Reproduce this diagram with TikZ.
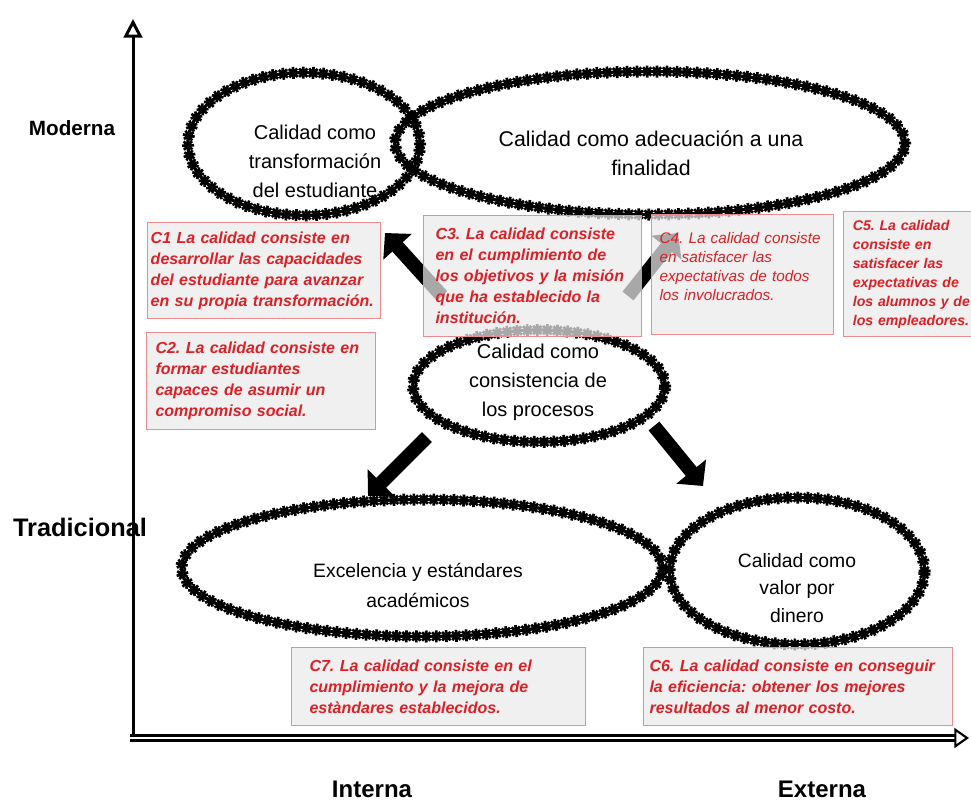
\documentclass[tikz,border=0pt]{standalone}
\usepackage{fontspec}
\setmainfont{Liberation Sans}
\usetikzlibrary{arrows.meta, positioning, shapes.geometric, decorations.markings}
\definecolor{redtxt}{RGB}{220,32,38}
\definecolor{redline}{RGB}{236,140,140}
\definecolor{boxgray}{RGB}{234,234,234}

\begin{document}
\begin{tikzpicture}[
    x=0.75pt, y=-0.75pt,
    ring/.style={ellipse, draw=black, line width=2.2pt, inner sep=0pt,
        postaction={decorate, decoration={markings,
        mark=between positions 0 and 1 step 7.5pt with {
        \draw[line width=2pt] (-6,0) -- (6,0) (0,-6) -- (0,6)
            (-4.2,-4.2) -- (4.2,4.2) (-4.2,4.2) -- (4.2,-4.2);}}}},
    ringtxt/.style={align=center, text=black, font=\fontsize{15}{21.75}\selectfont},
    box/.style={draw=redline, line width=0.8pt, fill=boxgray, fill opacity=0.72,
        text opacity=1, text=redtxt, anchor=north west, align=left, inner ysep=2pt,
        font=\frenchspacing\hyphenpenalty10000\relax\bfseries\itshape\fontsize{12}{15.75}\selectfont},
    blk/.style={line width=10.5pt, -{Triangle[length=14pt, width=28pt]}},
    axlab/.style={font=\bfseries\fontsize{18}{20}\selectfont}
]
\useasboundingbox (0,0) rectangle (971,804);

% --- the five conceptions of quality ---
\node[ring, minimum width=174pt, minimum height=107pt] (transf) at (304,144) {};
\node[ring, minimum width=382.5pt, minimum height=107.25pt] (adec) at (650,143) {};
\node[ring, minimum width=189pt, minimum height=84pt] (consist) at (539,386) {};
\node[ring, minimum width=360.75pt, minimum height=102.75pt] (excel) at (422,568) {};
\node[ring, minimum width=191.25pt, minimum height=110.25pt] (valor) at (797,571) {};

\node[ringtxt] (transf-t) at (315,161) {Calidad como\\transformación\\del estudiante};
\node[ringtxt, font=\fontsize{16}{21.75}\selectfont] (adec-t) at (651,153)
    {Calidad como adecuación a una\\finalidad};
\node[ringtxt] (consist-t) at (538,382) {Calidad como\\consistencia de\\los procesos};
\node[ringtxt, font=\fontsize{14.5}{22.5}\selectfont] (excel-t) at (418,585)
    {Excelencia y estándares\\académicos};
\node[ringtxt, font=\fontsize{14.5}{20.5}\selectfont] (valor-t) at (797,588)
    {Calidad como\\valor por\\dinero};

% --- block arrows out of the consistency ellipse ---
\coordinate (a1s) at (442,296);
\coordinate (a1e) at (385,233);
\coordinate (a2s) at (628,296);
\coordinate (a2e) at (678,233);
\coordinate (a3s) at (427,437);
\coordinate (a3e) at (368,496);
\coordinate (a4s) at (654,426);
\coordinate (a4e) at (703,486);

\draw[blk] (a1s) -- (a1e);
\draw[blk] (a2s) -- (a2e);
\draw[blk] (a3s) -- (a3e);
\draw[blk] (a4s) -- (a4e);

% --- criteria boxes ---
\node[box, inner xsep=2.4pt, text width=170pt, minimum height=72pt] (c1) at (147,222)
    {C1 La calidad consiste en\\desarrollar las capacidades\\del estudiante para avanzar\\en su propia transformación.};
\node[box, inner xsep=6.75pt, text width=158.25pt, minimum height=72.75pt] (c2) at (146,332)
    {C2. La calidad consiste en\\formar estudiantes\\capaces de asumir un\\compromiso social.};
\node[box, inner xsep=9pt, text width=145.5pt, minimum height=90.75pt] (c3) at (423,215)
    {C3. La calidad consiste\\en el cumplimiento de\\los objetivos y la misión\\que ha establecido la\\institución.};
\node[box, inner xsep=6pt, text width=124.5pt, minimum height=90pt,
    font=\frenchspacing\mdseries\itshape\fontsize{11.5}{14.25}\selectfont] (c4) at (651,214)
    {C4. La calidad consiste\\en satisfacer las\\expectativas de todos\\los involucrados.\par\vspace{12pt}};
\node[box, inner xsep=7pt, text width=98.5pt, minimum height=93.75pt,
    font=\frenchspacing\bfseries\itshape\fontsize{10.6}{14.25}\selectfont] (c5) at (843,211)
    {C5. La calidad\\consiste en\\satisfacer las\\expectativas de\\los alumnos y de\\los empleadores.};
\node[box, inner xsep=13.5pt, text width=193.5pt, minimum height=58.5pt] (c7) at (291,647)
    {C7. La calidad consiste en el\\cumplimiento y la mejora de\\estàndares establecidos.};
\node[box, inner xsep=4.5pt, text width=222.75pt, minimum height=58.5pt] (c6) at (643,647)
    {C6. La calidad consiste en conseguir\\la eficiencia: obtener los mejores\\resultados al menor costo.};

% --- axes ---
\coordinate (o) at (133,738);
\coordinate (ytop) at (133,19);
\coordinate (xend) at (969,738);
\draw[line width=2.25pt, -{Triangle[open, length=14pt, width=14pt]}] (o) -- (ytop);
\draw[line width=1.6pt, double distance=2.2pt, -{Triangle[open, length=11pt, width=15pt]}]
    ([xshift=-2pt]o) -- (xend);

\node[axlab, font=\bfseries\fontsize{15.5}{18}\selectfont] (moderna) at (72,128) {Moderna};
\node[axlab, font=\bfseries\fontsize{19}{21}\selectfont] (tradic) at (80,527) {Tradicional};
\node[axlab] (interna) at (372,789) {Interna};
\node[axlab] (externa) at (822,789) {Externa};

\end{tikzpicture}
\end{document}
